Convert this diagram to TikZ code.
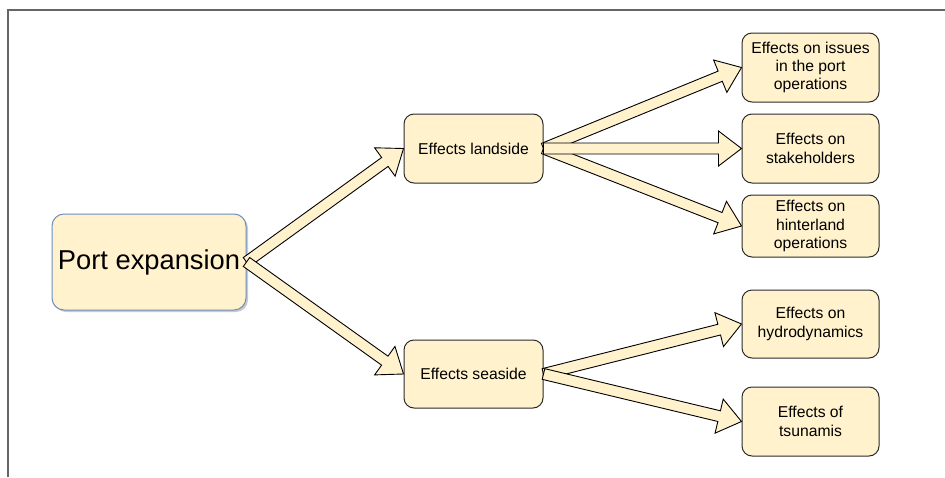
\documentclass[tikz,border=0pt]{standalone}
\usepackage{fontspec}
\setmainfont{Liberation Sans}
\usetikzlibrary{calc,shadows}
\definecolor{boxfill}{HTML}{FFF2CC}
\definecolor{peblue}{HTML}{6C8EBF}
\definecolor{framegray}{HTML}{666666}
\definecolor{boxline}{HTML}{2B2B2B}
\newcommand\farrow[2]{%
  \coordinate (fa-n) at ($(#2)!23pt!(#1)$);
  \filldraw[flexarr] ($(#1)!5.5pt!90:(#2)$) -- ($(fa-n)!5.5pt!90:(#2)$)
    -- ($(fa-n)!17.5pt!90:(#2)$) -- (#2) -- ($(fa-n)!17.5pt!-90:(#2)$)
    -- ($(fa-n)!5.5pt!-90:(#2)$) -- ($(#1)!5.5pt!-90:(#2)$) -- cycle;}
\tikzset{
  flexarr/.style={fill=boxfill, draw=black, line width=0.9pt, line join=miter},
  smallbox/.style={draw=boxline, fill=boxfill, line width=1pt, rounded corners=10pt,
    inner sep=0pt, align=center, minimum width=137pt,
    font=\fontsize{15.7}{18.3}\selectfont},
  bigbox/.style={draw=peblue, fill=boxfill, line width=1pt, rounded corners=12pt,
    inner sep=0pt, align=center, minimum width=194pt, minimum height=96pt,
    font=\fontsize{27.3}{32}\selectfont,
    drop shadow={shadow xshift=2pt, shadow yshift=-2pt, opacity=0.35, fill=black!60}},
  frameline/.style={draw=framegray, line width=2pt}
}
\begin{document}
\begin{tikzpicture}[x=1pt, y=-1pt]
\useasboundingbox (0,0) rectangle (945,477);
\coordinate (fa) at (8,477);
\coordinate (fb) at (8,10);
\coordinate (fc) at (945,10);
\draw[frameline] (fa) -- (fb) -- (fc);

\node[bigbox] (pe) at (149,262) {Port expansion};
\node[smallbox, minimum width=139pt, minimum height=69pt] (ls) at (473.5,148.5) {Effects landside};
\node[smallbox, minimum width=139pt, minimum height=68pt] (ss) at (473.5,374) {Effects seaside};
\node[smallbox, minimum height=69pt] (r1) at (810.5,67.5) {Effects on issues\\in the port\\operations};
\node[smallbox, minimum height=69pt] (r2) at (810.5,148.5) {Effects on\\stakeholders};
\node[smallbox, minimum height=62pt] (r3) at (810.5,226) {Effects on\\hinterland\\operations};
\node[smallbox, minimum height=68pt] (r4) at (810.5,324) {Effects on\\hydrodynamics};
\node[smallbox, minimum height=69pt] (r5) at (810.5,421.5) {Effects of\\tsunamis};

\farrow{pe.east}{ls.west}
\farrow{pe.east}{ss.west}
\farrow{ls.east}{r1.west}
\farrow{ls.east}{r3.west}
\farrow{ls.east}{r2.west}
\farrow{ss.east}{r4.west}
\farrow{ss.east}{r5.west}
\end{tikzpicture}
\end{document}
